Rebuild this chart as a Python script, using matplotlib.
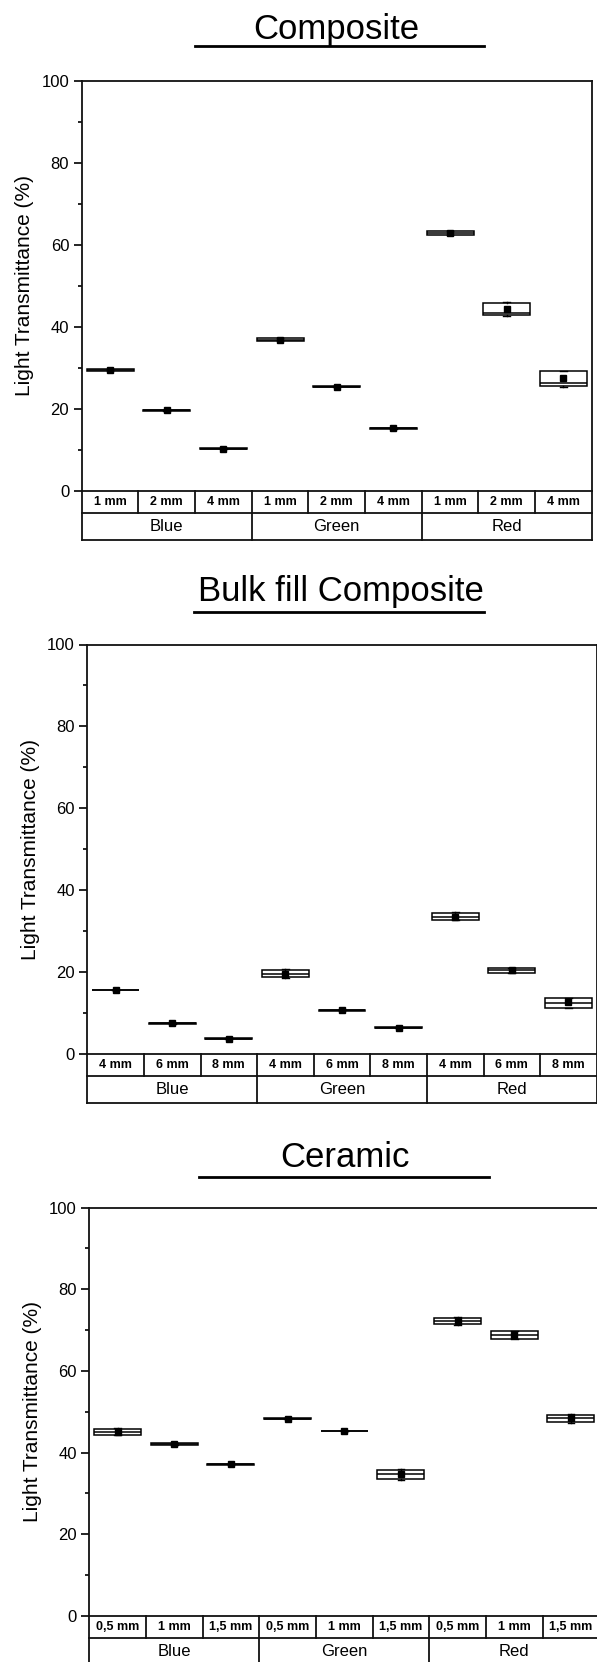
import matplotlib
matplotlib.use("Agg")
import matplotlib.pyplot as plt
from matplotlib.lines import Line2D

plt.rcParams['font.family'] = ['Liberation Sans', 'DejaVu Sans']

# ---------------- data ----------------
groups = ['Blue', 'Green', 'Red']

titles = ['Composite', 'Bulk fill Composite', 'Ceramic']

sizes_composite = ['1 mm', '2 mm', '4 mm']
sizes_bulk = ['4 mm', '6 mm', '8 mm']
sizes_ceramic = ['0,5 mm', '1 mm', '1,5 mm']

# Composite
q1_comp = [29.3, 19.5, 10.1, 36.5, 25.3, 15.1, 62.5, 42.8, 25.5]
med_comp = [29.5, 19.6, 10.3, 36.9, 25.4, 15.2, 62.9, 43.4, 26.3]
q3_comp = [29.7, 19.7, 10.5, 37.3, 25.5, 15.3, 63.4, 45.8, 29.1]
mean_comp = [29.5, 19.6, 10.3, 36.9, 25.4, 15.2, 63.0, 44.4, 27.4]
lo_comp = [29.3, 19.5, 10.1, 36.5, 25.3, 15.1, 62.4, 42.7, 25.4]
hi_comp = [29.7, 19.7, 10.5, 37.3, 25.5, 15.3, 63.5, 46.1, 29.3]

# Bulk fill composite
q1_bulk = [15.6, 7.5, 3.7, 18.8, 10.5, 6.4, 32.8, 19.9, 11.3]
med_bulk = [15.7, 7.6, 3.8, 19.6, 10.7, 6.5, 33.5, 20.5, 12.5]
q3_bulk = [15.8, 7.7, 3.9, 20.6, 10.9, 6.6, 34.5, 21.0, 13.7]
mean_bulk = [15.7, 7.6, 3.8, 19.7, 10.9, 6.5, 33.6, 20.6, 12.8]
lo_bulk = [15.6, 7.5, 3.7, 18.7, 10.5, 6.4, 32.7, 19.8, 11.2]
hi_bulk = [15.8, 7.7, 3.9, 20.7, 11.0, 6.6, 34.7, 21.1, 13.8]

# Ceramic
q1_cer = [44.4, 41.9, 36.9, 48.2, 45.2, 33.5, 71.4, 67.9, 47.4]
med_cer = [45.1, 42.1, 37.1, 48.3, 45.3, 34.8, 72.2, 68.8, 48.4]
q3_cer = [45.8, 42.3, 37.3, 48.4, 45.4, 35.7, 73.0, 69.7, 49.3]
mean_cer = [45.1, 42.1, 37.1, 48.3, 45.3, 34.8, 72.2, 68.8, 48.4]
lo_cer = [44.3, 41.9, 36.9, 48.2, 45.2, 33.4, 71.3, 67.8, 47.3]
hi_cer = [45.9, 42.3, 37.3, 48.4, 45.4, 35.9, 73.1, 69.8, 49.4]

# --------------- layout ----------------
W, H = 597, 1662
fig = plt.figure(figsize=(W / 100, H / 100), dpi=100)


def fx(px):
    return px / W


def fy(py):
    return 1 - py / H


panels = [
    dict(title=titles[0], sizes=sizes_composite,
         q1=q1_comp, med=med_comp, q3=q3_comp, mean=mean_comp, lo=lo_comp, hi=hi_comp,
         ax_px=(81.7, 591.7, 81.0, 490.7),
         title_c=336, title_base=38.6, ul=(195, 484, 45.7)),
    dict(title=titles[1], sizes=sizes_bulk,
         q1=q1_bulk, med=med_bulk, q3=q3_bulk, mean=mean_bulk, lo=lo_bulk, hi=hi_bulk,
         ax_px=(87.3, 596.7, 644.5, 1054.3),
         title_c=340.5, title_base=601.3, ul=(194, 484, 611.7)),
    dict(title=titles[2], sizes=sizes_ceramic,
         q1=q1_cer, med=med_cer, q3=q3_cer, mean=mean_cer, lo=lo_cer, hi=hi_cer,
         ax_px=(89.3, 599.3, 1207.5, 1616.0),
         title_c=344.5, title_base=1167.3, ul=(199, 489, 1176.7)),
]

for p in panels:
    x0, x1, ytop, ybot = p['ax_px']
    ax = fig.add_axes([fx(x0), fy(ybot), (x1 - x0) / W, (ybot - ytop) / H])
    ax_h = ybot - ytop
    ax.set_xlim(0.5, 9.5)
    ax.set_ylim(0, 100)
    ax.set_xticks([])
    ax.set_yticks([0, 20, 40, 60, 80, 100])
    ax.set_yticks([10, 30, 50, 70, 90], minor=True)
    ax.tick_params(axis='y', which='major', direction='out', length=6, width=1.2,
                   labelsize=12, pad=3, colors='black')
    ax.tick_params(axis='y', which='minor', direction='out', length=3, width=1.2)
    for s in ax.spines.values():
        s.set_linewidth(1.3)
        s.set_color('#111111')

    stats = []
    for i in range(9):
        stats.append(dict(med=p['med'][i], q1=p['q1'][i], q3=p['q3'][i],
                          whislo=p['lo'][i], whishi=p['hi'][i],
                          mean=p['mean'][i], fliers=[]))
    ax.bxp(stats, positions=list(range(1, 10)), widths=0.83, showmeans=True,
           showfliers=False, patch_artist=True, capwidths=0.12,
           boxprops=dict(facecolor='white', edgecolor='black', linewidth=1.1),
           medianprops=dict(color='black', linewidth=1.1),
           whiskerprops=dict(color='black', linewidth=1.0),
           capprops=dict(color='black', linewidth=1.0),
           meanprops=dict(marker='s', markerfacecolor='black',
                          markeredgecolor='black', markersize=4))
    ax.set_xlim(0.5, 9.5)
    ax.set_xticks([])

    # category table below the axes
    tr = ax.get_xaxis_transform()
    r1 = -22.0 / ax_h
    r2 = -49.0 / ax_h
    kw = dict(transform=tr, clip_on=False, color='#111111', lw=1.3)
    ax.plot([0.5, 9.5], [r1, r1], **kw)
    ax.plot([0.5, 9.5], [r2, r2], **kw)
    for xb in [0.5, 3.5, 6.5, 9.5]:
        ax.plot([xb, xb], [0, r2], **kw)
    for xb in [1.5, 2.5, 4.5, 5.5, 7.5, 8.5]:
        ax.plot([xb, xb], [0, r1], **kw)
    for i in range(9):
        ax.text(i + 1, r1 / 2, p['sizes'][i % 3], transform=tr, ha='center',
                va='center', fontsize=9, fontweight='bold', clip_on=False)
    for g, gname in enumerate(groups):
        ax.text(3 * g + 2, (r1 + r2) / 2, gname, transform=tr, ha='center',
                va='center', fontsize=12, clip_on=False)

    ax.set_ylabel('Light Transmittance (%)', fontsize=15, va='center')
    ax.yaxis.set_label_coords(-57.0 / (x1 - x0), 0.5)

    # title with underline
    fig.text(fx(p['title_c']), fy(p['title_base']), p['title'], ha='center',
             va='baseline', fontsize=25)
    ux0, ux1, uy = p['ul']
    fig.add_artist(Line2D([fx(ux0), fx(ux1)], [fy(uy), fy(uy)],
                          transform=fig.transFigure, color='black', lw=2.0))

fig.savefig('out.png', dpi=100)
